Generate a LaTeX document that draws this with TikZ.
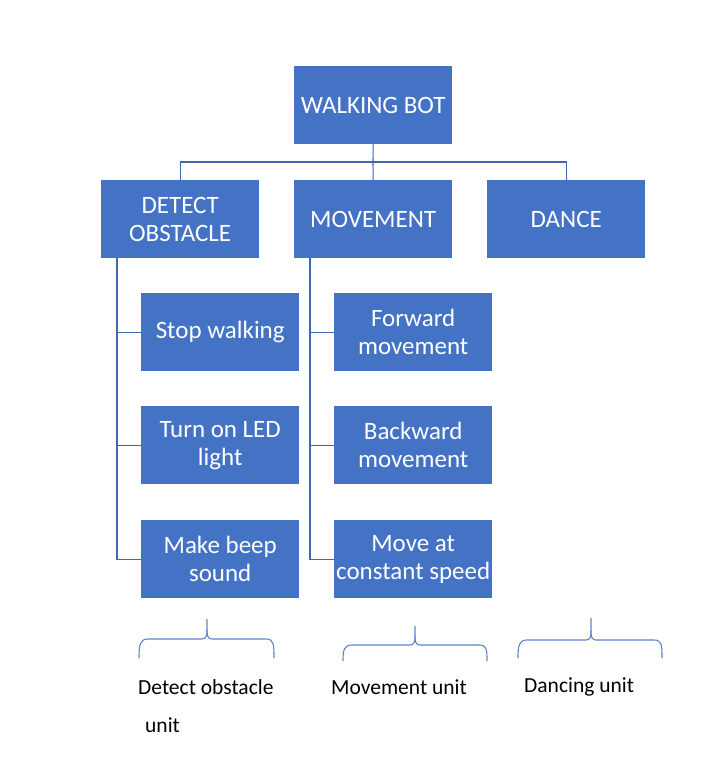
\documentclass[tikz,border=0pt]{standalone}
\usepackage{fontspec}
\setmainfont{Carlito}
\definecolor{boxblue}{HTML}{4472C4}
\definecolor{linblue}{HTML}{4068B0}
\definecolor{brblue}{HTML}{5B85CF}
\begin{document}
\begin{tikzpicture}[x=1pt,y=-1pt,
  box/.style={draw=none,fill=boxblue,text=white,minimum width=158pt,minimum height=78pt,
    align=center,font=\fontsize{25}{28}\selectfont,inner sep=0pt,anchor=north west},
  conn/.style={draw=linblue,line width=1.1pt},
  brace/.style={draw=brblue,line width=1.1pt},
  lab/.style={font=\fontsize{21.5}{24}\selectfont,anchor=west,inner sep=0pt}]
\useasboundingbox (0,0) rectangle (706,759);
\fill[white] (0,0) rectangle (706,759);
% boxes
\node[box] (bot) at (294,66) {WALKING BOT};
\node[box] (det) at (101,180) {DETECT\\OBSTACLE};
\node[box] (mov) at (294,180) {MOVEMENT};
\node[box] (dan) at (487,180) {DANCE};
\node[box] (s1) at (141,293) {Stop walking};
\node[box] (s2) at (141,406) {Turn on LED\\light};
\node[box] (s3) at (141,520) {Make beep\\sound};
\node[box] (m1) at (334,293) {Forward\\movement};
\node[box] (m2) at (334,406) {Backward\\movement};
\node[box] (m3) at (334,520) {Move at\\constant speed};
% top connectors
\coordinate (bus) at (373,162);
\draw[conn] (bot.south) -- (bus);
\draw[conn] (bus) -| (det.north);
\draw[conn] (bus) -| (dan.north);
\draw[conn] (bus) -- (mov.north);
% left spine
\coordinate (dsp) at (117,258);
\draw[conn] (dsp) |- (s3.west);
\draw[conn] (s1.west) -- (s1.west -| dsp);
\draw[conn] (s2.west) -- (s2.west -| dsp);
\coordinate (msp) at (310,258);
\draw[conn] (msp) |- (m3.west);
\draw[conn] (m1.west) -- (m1.west -| msp);
\draw[conn] (m2.west) -- (m2.west -| msp);
% braces
\draw[brace] (139,658) .. controls (139,645) and (140,639) .. (148,639) -- (202,639)
  .. controls (206,639) and (207,636) .. (207,630) -- (207,619);
\draw[brace] (207,630) .. controls (207,636) and (208,639) .. (212,639) -- (266,639)
  .. controls (274,639) and (274,645) .. (274,658);
\draw[brace] (343,661) .. controls (343,650) and (344,645) .. (352,645) -- (410,645)
  .. controls (414,645) and (415,642) .. (415,636) -- (415,626);
\draw[brace] (415,636) .. controls (415,642) and (416,645) .. (420,645) -- (479,645)
  .. controls (487,645) and (487,650) .. (487,661);
\draw[brace] (518,658) .. controls (518,646) and (519,640) .. (527,640) -- (586,640)
  .. controls (590,640) and (591,637) .. (591,631) -- (591,618);
\draw[brace] (591,631) .. controls (591,637) and (592,640) .. (596,640) -- (654,640)
  .. controls (662,640) and (662,646) .. (662,658);
% labels
\node[lab] (l1) at (138,687) {Detect obstacle};
\node[lab] (l1b) at (145,725) {unit};
\node[lab] (l2) at (331,687) {Movement unit};
\node[lab] (l3) at (524,687) {Dancing unit};
\end{tikzpicture}
\end{document}
